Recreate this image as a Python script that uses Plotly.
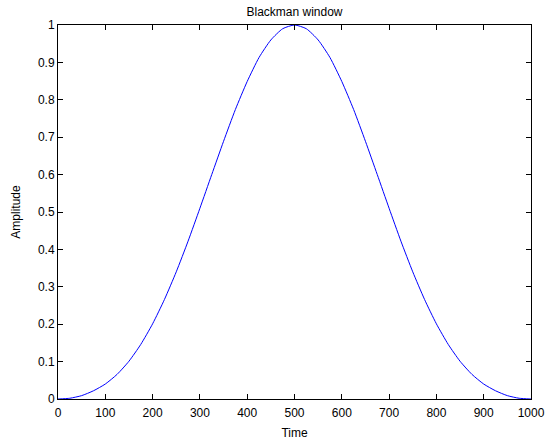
import plotly.graph_objects as go

time = [0, 25, 50, 75, 100, 125, 150, 175, 200, 225, 250, 275, 300, 325, 350, 375, 400, 425, 450, 475, 500,
        525, 550, 575, 600, 625, 650, 675, 700, 725, 750, 775, 800, 825, 850, 875, 900, 925, 950, 975, 1000]
amplitude = [0.0, 0.002, 0.009, 0.022, 0.040, 0.066, 0.101, 0.146, 0.201, 0.266, 0.340, 0.422, 0.510, 0.600,
             0.689, 0.774, 0.849, 0.913, 0.960, 0.990, 1.0,
             0.990, 0.960, 0.913, 0.849, 0.774, 0.689, 0.600, 0.510, 0.422, 0.340, 0.266, 0.201, 0.146, 0.101,
             0.066, 0.040, 0.022, 0.009, 0.002, 0.0]
xticks = [0, 100, 200, 300, 400, 500, 600, 700, 800, 900, 1000]
yticks = [0, 0.1, 0.2, 0.3, 0.4, 0.5, 0.6, 0.7, 0.8, 0.9, 1]
ytick_labels = ["0", "0.1", "0.2", "0.3", "0.4", "0.5", "0.6", "0.7", "0.8", "0.9", "1"]

fig = go.Figure()
fig.add_trace(go.Scatter(x=time, y=amplitude, mode="lines",
                         line=dict(color="#0000ff", width=1, shape="spline", smoothing=0.6),
                         showlegend=False))

font = dict(family="Liberation Sans, Arial, sans-serif", size=12, color="black")
axis_common = dict(showgrid=False, zeroline=False, showline=True, linecolor="black", linewidth=1,
                   mirror="ticks", ticks="inside", ticklen=5, tickcolor="black", tickwidth=1,
                   tickfont=font, automargin=False)
fig.update_xaxes(range=[0, 1000], tickvals=xticks, ticklabelstandoff=3,
                 title=dict(text="Time", font=font, standoff=9), **axis_common)
fig.update_yaxes(range=[0, 1], tickvals=yticks, ticktext=ytick_labels,
                 title=dict(text="Amplitude", font=font, standoff=14), **axis_common)
fig.update_layout(
    width=552, height=442,
    margin=dict(l=58, r=21, t=25, b=43, autoexpand=False),
    paper_bgcolor="white", plot_bgcolor="white",
    title=dict(text="Blackman window", font=font, x=0.5, xref="paper", xanchor="center",
               y=1, yref="paper", yanchor="bottom", pad=dict(b=9)),
    font=font,
    hovermode=False,
)
# remove the default 8px body margin so the figure sits at the page's top-left corner
fig.write_html("out.html", config={"displayModeBar": False, "staticPlot": True},
               post_script="document.body.style.margin='0';")
